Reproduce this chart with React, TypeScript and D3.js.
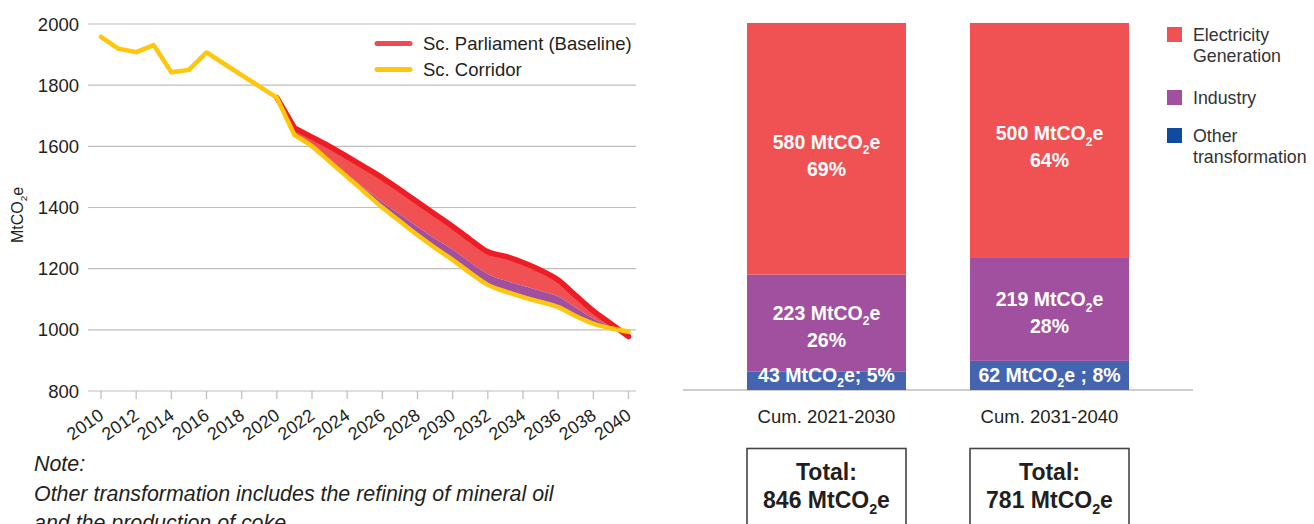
import React from "react";
import * as d3 from "d3";

// ---------- Emission pathways (MtCO2e) ----------
// Historical emissions, common to both scenarios
const historyYears = [2010, 2011, 2012, 2013, 2014, 2015, 2016, 2017, 2018, 2019, 2020];
const historyValues = [1958, 1919, 1908, 1931, 1842, 1850, 1907, 1870, 1833, 1796, 1759];

// Scenario projections
const scenarioYears = [
  2020, 2021, 2022, 2023, 2024, 2025, 2026, 2027, 2028, 2029, 2030,
  2031, 2032, 2033, 2034, 2035, 2036, 2037, 2038, 2039, 2040,
];
const parliamentValues = [
  1759, 1660, 1630, 1600, 1566, 1532, 1497, 1458, 1418, 1378, 1338,
  1295, 1255, 1240, 1220, 1195, 1163, 1112, 1062, 1020, 978,
];
const corridorValues = [
  1759, 1637, 1600, 1550, 1500, 1450, 1400, 1355, 1310, 1268, 1229,
  1186, 1147, 1125, 1107, 1091, 1074, 1045, 1020, 1005, 994,
];
// Gap between the two scenarios, split by sector (stacked on the corridor line)
const gapOther = [0, 2, 3, 3, 4, 4, 5, 5, 5, 5, 6, 6, 6, 6, 7, 7, 7, 6, 5, 3, 0];
const gapIndustry = [0, 0, 1, 2, 4, 8, 13, 18, 22, 25, 28, 29, 29, 30, 30, 29, 28, 22, 12, 5, 0];

const xTickYears = [2010, 2012, 2014, 2016, 2018, 2020, 2022, 2024, 2026, 2028, 2030, 2032, 2034, 2036, 2038, 2040];
const yTickValues = [800, 1000, 1200, 1400, 1600, 1800, 2000];

const lineLegend = ["Sc. Parliament (Baseline)", "Sc. Corridor"];

// ---------- Cumulative reductions by sector ----------
const periods = ["Cum. 2021-2030", "Cum. 2031-2040"];
const cumElectricity = [580, 500];
const cumIndustry = [223, 219];
const cumOther = [43, 62];
const pctElectricity = [69, 64];
const pctIndustry = [26, 28];
const pctOther = [5, 8];
const otherSeparators = ["; ", " ; "];
const cumTotals = [846, 781];

const sectorLegend = [
  { key: "electricity", lines: ["Electricity", "Generation"] },
  { key: "industry", lines: ["Industry"] },
  { key: "other", lines: ["Other", "transformation"] },
];

const noteLines = [
  "Note:",
  "Other transformation includes the refining of mineral oil",
  "and the production of coke",
];

const FONT = "'Liberation Sans', Arial, Helvetica, sans-serif";
const RED_LINE = "#EE1D25";
const RED_FILL = "#F05152";
const PURPLE = "#A1509F";
const BLUE_BAR = "#4464AF";
const BLUE_LEGEND = "#0F4C9F";
const YELLOW = "#FFC60B";
const GRID = "#BDBDBD";
const TEXT = "#231F20";

function Co2({ size, pre = "", post = "e" }: { size: number; pre?: string; post?: string }) {
  const shift = size * 0.28;
  return (
    <>
      {pre}MtCO
      <tspan dy={shift} fontSize={size * 0.62}>2</tspan>
      <tspan dy={-shift}>{post}</tspan>
    </>
  );
}

type Row = { yr: number; parl: number; corr: number; other: number; ind: number };

function LineChart() {
  const x = d3.scaleLinear().domain([2010, 2040]).range([101, 628.5]);
  const y = d3.scaleLinear().domain([800, 2000]).range([391, 24]);
  const gridX0 = 88;
  const gridX1 = 636;

  const rows: Row[] = scenarioYears.map((yr, i) => ({
    yr,
    parl: parliamentValues[i],
    corr: corridorValues[i],
    other: gapOther[i],
    ind: gapIndustry[i],
  }));

  const straight = d3.line<[number, number]>().x((d) => x(d[0])).y((d) => y(d[1]));
  const smooth = d3
    .line<[number, number]>()
    .curve(d3.curveMonotoneX)
    .x((d) => x(d[0]))
    .y((d) => y(d[1]));

  const joined = (head: [number, number][], tail: [number, number][]) =>
    (straight(head) || "") + (smooth(tail) || "").replace(/^M/, "L");

  const histPts: [number, number][] = historyYears.map((yr, i) => [yr, historyValues[i]]);
  const corrPts: [number, number][] = rows.map((r) => [r.yr, r.corr]);
  const parlPts: [number, number][] = rows.map((r) => [r.yr, r.parl]);

  const corridorPath = joined([...histPts, corrPts[1]], corrPts.slice(1));
  const parliamentPath = joined(parlPts.slice(0, 2), parlPts.slice(1));

  const band = (lo: (r: Row) => number, hi: (r: Row) => number) => {
    const a1 = d3
      .area<Row>()
      .x((r) => x(r.yr))
      .y0((r) => y(lo(r)))
      .y1((r) => y(hi(r)))(rows.slice(0, 2));
    const a2 = d3
      .area<Row>()
      .curve(d3.curveMonotoneX)
      .x((r) => x(r.yr))
      .y0((r) => y(lo(r)))
      .y1((r) => y(hi(r)))(rows.slice(1));
    return (a1 || "") + (a2 || "");
  };

  const otherBand = band((r) => r.corr, (r) => r.corr + r.other);
  const industryBand = band((r) => r.corr + r.other, (r) => r.corr + r.other + r.ind);
  const electricityBand = band((r) => r.corr + r.other + r.ind, (r) => r.parl);

  return (
    <g>
      {yTickValues.map((v) => (
        <g key={v}>
          <line x1={gridX0} x2={gridX1} y1={y(v)} y2={y(v)} stroke={GRID} strokeWidth={1.2} />
          <text x={79} y={y(v)} dy="0.36em" textAnchor="end" fontSize={18.5} fill={TEXT}>
            {v}
          </text>
        </g>
      ))}
      {xTickYears.map((yr) => (
        <g key={yr}>
          <line x1={x(yr)} x2={x(yr)} y1={y(800)} y2={y(800) + 8} stroke={GRID} strokeWidth={1.2} />
          <text
            transform={`translate(${x(yr) + 4},${y(800) + 27}) rotate(-35)`}
            textAnchor="end"
            fontSize={18}
            fill={TEXT}
          >
            {yr}
          </text>
        </g>
      ))}
      <text transform="translate(23,215) rotate(-90)" textAnchor="middle" fontSize={16} fill={TEXT}>
        <Co2 size={16} />
      </text>

      <path d={electricityBand} fill={RED_FILL} />
      <path d={industryBand} fill={PURPLE} />
      <path d={otherBand} fill={BLUE_BAR} />
      <path d={parliamentPath} fill="none" stroke={RED_LINE} strokeWidth={5.5} strokeLinecap="round" strokeLinejoin="round" />
      <path d={corridorPath} fill="none" stroke={YELLOW} strokeWidth={4.5} strokeLinecap="round" strokeLinejoin="round" />

      {lineLegend.map((label, i) => (
        <g key={label} transform={`translate(0,${43.5 + i * 26})`}>
          <line x1={377} x2={410} y1={0} y2={0} stroke={i === 0 ? "#EF4B55" : YELLOW} strokeWidth={5} strokeLinecap="round" />
          <text x={423} y={0} dy="0.36em" fontSize={18.5} fill={TEXT}>
            {label}
          </text>
        </g>
      ))}

      <g fontStyle="italic" fontSize={21.4} fill={TEXT}>
        {noteLines.map((ln, i) => (
          <text key={ln} x={34} y={471 + i * 29.5}>
            {ln}
          </text>
        ))}
      </g>
    </g>
  );
}

function BarChart() {
  const bx = d3.scaleBand<string>().domain(periods).range([747, 1129]).paddingInner(0.287).paddingOuter(0);
  const by = d3.scaleLinear().domain([0, 1]).range([390, 23]);

  const data = periods.map((p, i) => ({
    period: p,
    other: cumOther[i],
    industry: cumIndustry[i],
    electricity: cumElectricity[i],
  }));
  const series = d3
    .stack<(typeof data)[number]>()
    .keys(["other", "industry", "electricity"])
    .offset(d3.stackOffsetExpand)(data);

  const colors: Record<string, string> = { other: BLUE_BAR, industry: PURPLE, electricity: RED_FILL };
  const legendColors: Record<string, string> = { other: BLUE_LEGEND, industry: PURPLE, electricity: RED_FILL };
  const bw = bx.bandwidth();

  return (
    <g>
      <line x1={683} x2={1193} y1={by(0)} y2={by(0)} stroke={GRID} strokeWidth={1.5} />
      {series.map((s) =>
        s.map((d, i) => (
          <rect
            key={s.key + i}
            x={bx(periods[i])}
            y={by(d[1])}
            width={bw}
            height={by(d[0]) - by(d[1])}
            fill={colors[s.key]}
          />
        ))
      )}

      {periods.map((p, i) => {
        const cx = (bx(p) as number) + bw / 2;
        const elec = series[2][i];
        const ind = series[1][i];
        const elecMid = (by(elec[0]) + by(elec[1])) / 2;
        const indMid = (by(ind[0]) + by(ind[1])) / 2;
        return (
          <g key={p} fill="#fff" fontWeight="bold" fontSize={19.5} textAnchor="middle">
            <text x={cx} y={elecMid}>
              <Co2 size={19.5} pre={`${cumElectricity[i]} `} />
            </text>
            <text x={cx} y={elecMid + 27}>{pctElectricity[i]}%</text>
            <text x={cx} y={indMid - 3}>
              <Co2 size={19.5} pre={`${cumIndustry[i]} `} />
            </text>
            <text x={cx} y={indMid + 24}>{pctIndustry[i]}%</text>
            <text x={cx} y={by(0) - 8}>
              <Co2 size={19.5} pre={`${cumOther[i]} `} post={`e${otherSeparators[i]}${pctOther[i]}%`} />
            </text>
          </g>
        );
      })}

      {periods.map((p, i) => {
        const x0 = bx(p) as number;
        const cx = x0 + bw / 2;
        return (
          <g key={p + "lbl"}>
            <text x={cx} y={423} textAnchor="middle" fontSize={18.5} fill={TEXT}>
              {p}
            </text>
            <rect x={x0} y={448.5} width={bw} height={110} fill="none" stroke="#444" strokeWidth={1.6} />
            <text x={cx} y={480} textAnchor="middle" fontSize={23} fontWeight="bold" fill={TEXT}>
              Total:
            </text>
            <text x={cx} y={508} textAnchor="middle" fontSize={23} fontWeight="bold" fill={TEXT}>
              <Co2 size={23} pre={`${cumTotals[i]} `} />
            </text>
          </g>
        );
      })}

      {sectorLegend.map((item, i) => {
        const top = [27, 90, 128][i];
        return (
          <g key={item.key}>
            <rect x={1167} y={top} width={15} height={15} fill={legendColors[item.key]} />
            {item.lines.map((ln, j) => (
              <text key={ln} x={1193} y={top + 14 + j * 20.5} fontSize={17.8} fill="#333">
                {ln}
              </text>
            ))}
          </g>
        );
      })}
    </g>
  );
}

export default function App() {
  return (
    <div style={{ position: "absolute", left: 0, top: 0 }}>
      <svg width={1314} height={524} style={{ display: "block", background: "#fff" }} fontFamily={FONT}>
        <LineChart />
        <BarChart />
      </svg>
    </div>
  );
}
